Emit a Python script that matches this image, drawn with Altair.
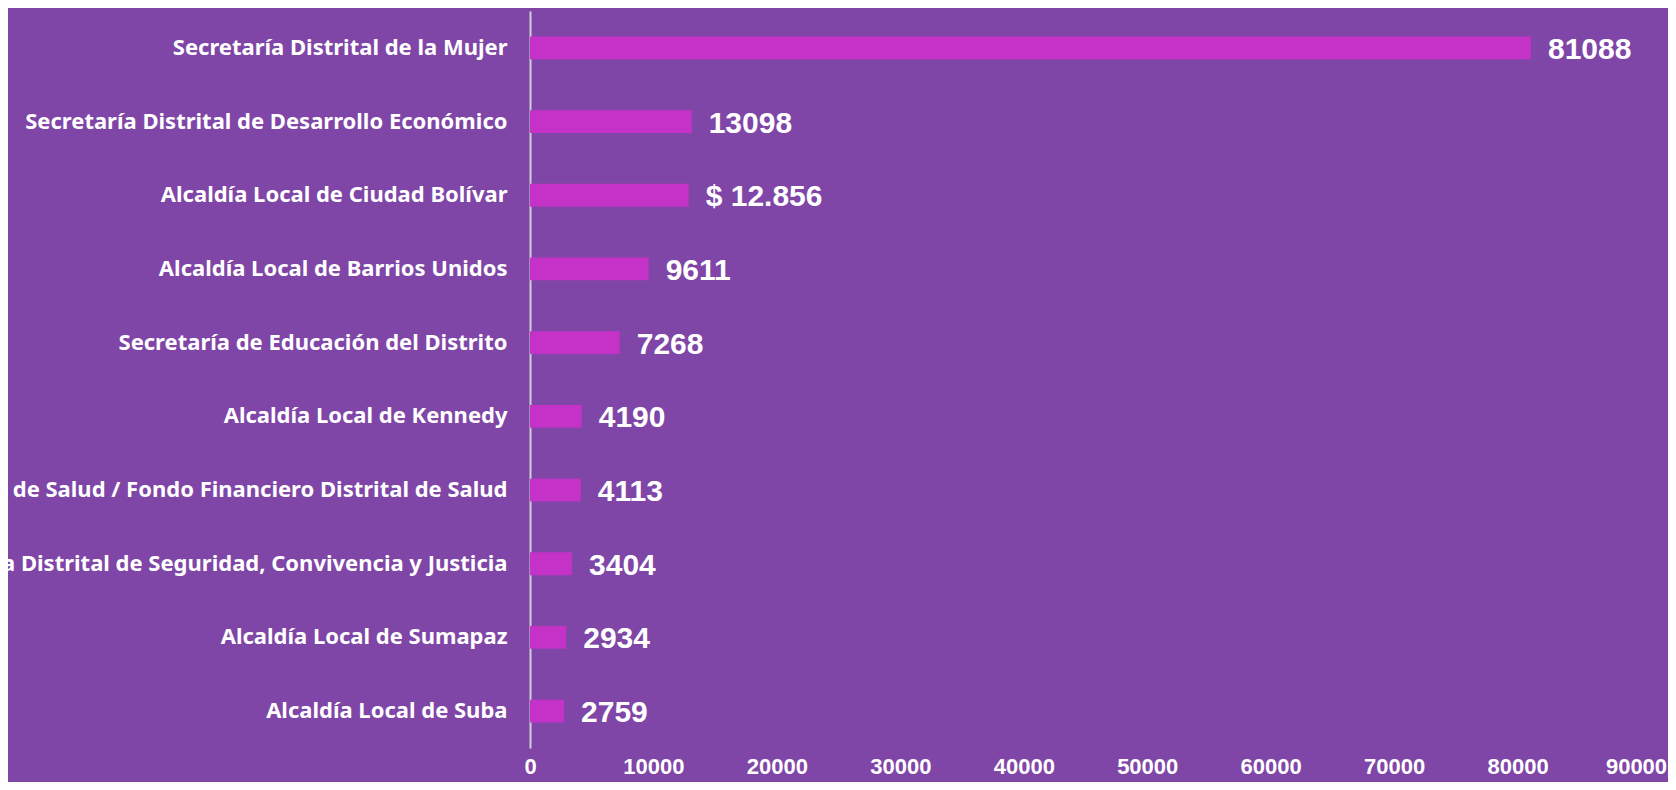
import altair as alt
import pandas as pd

entities = [
    "Secretaría Distrital de la Mujer",
    "Secretaría Distrital de Desarrollo Económico",
    "Alcaldía Local de Ciudad Bolívar",
    "Alcaldía Local de Barrios Unidos",
    "Secretaría de Educación del Distrito",
    "Alcaldía Local de Kennedy",
    "Secretaría Distrital de Salud / Fondo Financiero Distrital de Salud",
    "Secretaría Distrital de Seguridad, Convivencia y Justicia",
    "Alcaldía Local de Sumapaz",
    "Alcaldía Local de Suba",
]
values = [81088, 13098, 12856, 9611, 7268, 4190, 4113, 3404, 2934, 2759]
value_labels = ["81088", "13098", "$ 12.856", "9611", "7268", "4190", "4113", "3404", "2934", "2759"]
x_ticks = [0, 10000, 20000, 30000, 40000, 50000, 60000, 70000, 80000, 90000]

df = pd.DataFrame({"entidad": entities, "valor": values, "etiqueta": value_labels})

BG = "#7F46A8"
BAR = "#C432C8"

y_enc = alt.Y(
    "entidad:N",
    sort=None,
    title=None,
    scale=alt.Scale(paddingInner=0.69, paddingOuter=0.345),
    axis=alt.Axis(
        ticks=False,
        tickSize=0,
        domain=True,
        domainColor="#CFCFD6",
        domainWidth=2,
        labelColor="#FFFFFF",
        labelFont="Noto Sans",
        labelFontWeight="bold",
        labelFontSize=22,
        labelPadding=23,
        labelLimit=0,
        grid=False,
    ),
)
x_enc = alt.X(
    "valor:Q",
    title=None,
    scale=alt.Scale(domain=[0, 90000], nice=False, zero=True),
    axis=alt.Axis(
        values=x_ticks,
        format="d",
        ticks=False,
        tickSize=0,
        domain=False,
        grid=False,
        labelColor="#FFFFFF",
        labelFont="Liberation Sans",
        labelFontWeight="bold",
        labelFontSize=22,
        labelPadding=8,
        labelFlush=False,
        labelOverlap=False,
        labelOffset={"condition": {"test": "datum.value == 90000", "value": -5}, "value": 0},
    ),
)

bars = alt.Chart(df).mark_bar(color=BAR).encode(y=y_enc, x=x_enc)

texts = alt.Chart(df).mark_text(
    align="left",
    baseline="middle",
    dx=17,
    dy=2,
    font="Liberation Sans",
    fontWeight="bold",
    fontSize=30,
    color="#FFFFFF",
).encode(y=alt.Y("entidad:N", sort=None), x=alt.X("valor:Q"), text="etiqueta:N")

chart = (
    alt.layer(bars, texts)
    .properties(
        width=1111,
        height=737,
        background=BG,
        padding={"left": 522, "top": 3, "right": 27, "bottom": 34},
        autosize=alt.AutoSizeParams(type="none"),
    )
    .configure_view(stroke=None)
)

chart.save("out.html", embed_options={"renderer": "svg", "actions": False})
